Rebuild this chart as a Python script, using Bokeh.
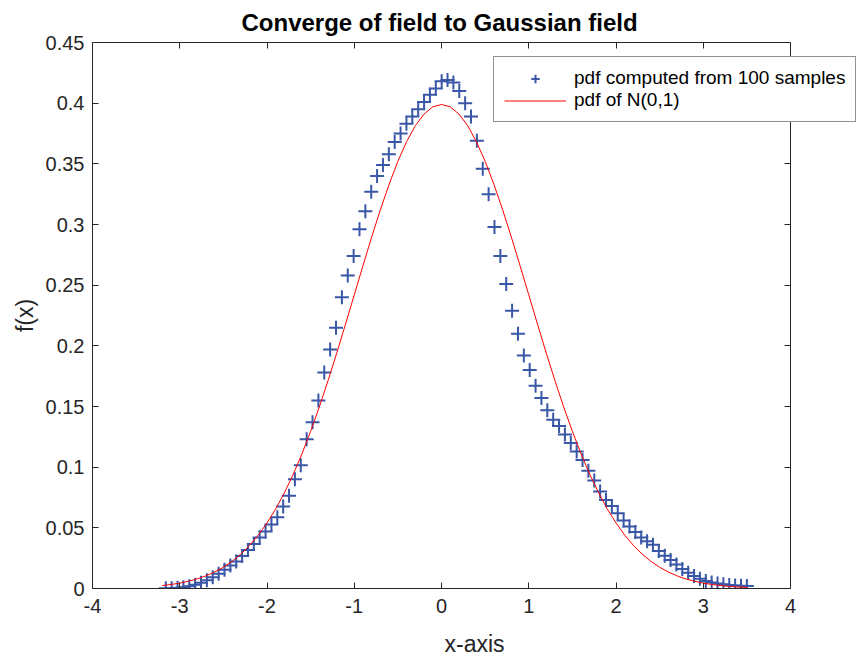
import numpy as np
from bokeh.plotting import figure
from bokeh.models import Range1d, LinearAxis, FixedTicker, Legend, LegendItem
from bokeh.embed import file_html
from bokeh.resources import INLINE

# ---- data ----
# 100 evaluation points of the estimated pdf (evenly spaced grid)
sample_x = np.linspace(-3.16, 3.50, 100)
sample_pdf = [
    0.0002, 0.0003, 0.0006, 0.0011, 0.0019, 0.0030, 0.0047, 0.0068, 0.0093, 0.0121,
    0.0155, 0.0190, 0.0223, 0.0267, 0.0318, 0.0367, 0.0420, 0.0470, 0.0527, 0.0587,
    0.0675, 0.0765, 0.0900, 0.1015, 0.1230, 0.1370, 0.1550, 0.1780, 0.1970, 0.2150,
    0.2400, 0.2580, 0.2740, 0.2960, 0.3110, 0.3270, 0.3400, 0.3490, 0.3580, 0.3680,
    0.3750, 0.3830, 0.3890, 0.3950, 0.4010, 0.4070, 0.4120, 0.4180, 0.4190, 0.4170,
    0.4100, 0.4000, 0.3890, 0.3690, 0.3460, 0.3250, 0.2980, 0.2740, 0.2510, 0.2290,
    0.2100, 0.1920, 0.1800, 0.1670, 0.1570, 0.1470, 0.1390, 0.1340, 0.1270, 0.1200,
    0.1130, 0.1060, 0.0970, 0.0890, 0.0800, 0.0730, 0.0680, 0.0620, 0.0560, 0.0510,
    0.0465, 0.0420, 0.0390, 0.0360, 0.0310, 0.0270, 0.0235, 0.0197, 0.0160, 0.0130,
    0.0103, 0.0081, 0.0061, 0.0050, 0.0042, 0.0034, 0.0028, 0.0025, 0.0022, 0.0020,
]

# N(0,1) density, tabulated at 0.1 steps from -3.2 to 3.5
normal_x = [round(v, 1) for v in np.arange(-3.2, 3.51, 0.1)]
normal_pdf = [
    0.0024, 0.0033, 0.0044, 0.0060, 0.0079, 0.0104, 0.0136, 0.0175, 0.0224, 0.0283,
    0.0355, 0.0440, 0.0540, 0.0656, 0.0790, 0.0940, 0.1109, 0.1295, 0.1497, 0.1714,
    0.1942, 0.2179, 0.2420, 0.2661, 0.2897, 0.3123, 0.3332, 0.3521, 0.3683, 0.3814,
    0.3910, 0.3970, 0.3989, 0.3970, 0.3910, 0.3814, 0.3683, 0.3521, 0.3332, 0.3123,
    0.2897, 0.2661, 0.2420, 0.2179, 0.1942, 0.1714, 0.1497, 0.1295, 0.1109, 0.0940,
    0.0790, 0.0656, 0.0540, 0.0440, 0.0355, 0.0283, 0.0224, 0.0175, 0.0136, 0.0104,
    0.0079, 0.0060, 0.0044, 0.0033, 0.0024, 0.0017, 0.0012, 0.0009,
]

x_ticks = [-4, -3, -2, -1, 0, 1, 2, 3, 4]
x_tick_labels = ["-4", "-3", "-2", "-1", "0", "1", "2", "3", "4"]
y_ticks = [0, 0.05, 0.1, 0.15, 0.2, 0.25, 0.3, 0.35, 0.4, 0.45]
y_tick_labels = ["0", "0.05", "0.1", "0.15", "0.2", "0.25", "0.3", "0.35", "0.4", "0.45"]
x_limits = (-4, 4)
y_limits = (0, 0.45)

title_text = "Converge of field to Gaussian field"
x_label = "x-axis"
y_label = "f(x)"
legend_labels = ["pdf computed from 100 samples", "pdf of N(0,1)"]

# ---- styling / layout ----
FONT = "Liberation Sans"
AX_COLOR = "#262626"
BLUE = "#3A57A7"
RED = "#FF0000"

W, H = 856, 659
LEFT, BOTTOM, TOP = 92, 69, 42
BOX_W = 698                      # width of the axes box in pixels
# the frame runs to the right edge of the page so the legend (which overhangs
# the axes box, as in the reference) is not clipped; the box itself ends at x=4
frame_w = W - LEFT
x_end = x_limits[0] + (x_limits[1] - x_limits[0]) * frame_w / BOX_W

p = figure(width=W, height=H, output_backend="svg", toolbar_location=None,
           x_range=Range1d(x_limits[0], x_end), y_range=Range1d(*y_limits),
           min_border_left=LEFT, min_border_right=0, min_border_top=TOP,
           min_border_bottom=BOTTOM)
p.background_fill_color = "white"
p.border_fill_color = "white"
p.outline_line_color = None
p.xgrid.visible = False
p.ygrid.visible = False

p.title.text = title_text
p.title.align = "left"
p.title.offset = 149
p.title.standoff = 13
p.title.text_font = FONT
p.title.text_font_size = "24px"
p.title.text_font_style = "bold"
p.title.text_color = "black"


def style_axis(ax, ticks, labels):
    ax.ticker = FixedTicker(ticks=ticks)
    ax.major_label_overrides = {t: l for t, l in zip(ticks, labels)}
    ax.major_tick_in = 6
    ax.major_tick_out = 0
    ax.minor_tick_in = 0
    ax.minor_tick_out = 0
    ax.axis_line_color = AX_COLOR
    ax.major_tick_line_color = AX_COLOR
    ax.major_label_text_font = FONT
    ax.major_label_text_font_size = "20px"
    ax.major_label_text_color = AX_COLOR
    ax.axis_label_text_font = FONT
    ax.axis_label_text_font_size = "23px"
    ax.axis_label_text_font_style = "normal"
    ax.axis_label_text_color = AX_COLOR


def style_mirror_axis(ax, ticks):
    # tick marks only (drawn as minor ticks so that no labels are produced)
    ax.ticker = FixedTicker(ticks=[], minor_ticks=ticks)
    ax.major_tick_in = 0
    ax.major_tick_out = 0
    ax.minor_tick_in = 6
    ax.minor_tick_out = 0
    ax.axis_line_color = AX_COLOR
    ax.minor_tick_line_color = AX_COLOR
    ax.major_label_standoff = 0


xa = p.xaxis[0]
style_axis(xa, x_ticks, x_tick_labels)
xa.bounds = x_limits
xa.axis_label = x_label
xa.major_label_standoff = 10
xa.axis_label_standoff = 15

ya = p.yaxis[0]
style_axis(ya, y_ticks, y_tick_labels)
ya.axis_label = y_label
ya.major_label_standoff = 8
ya.axis_label_standoff = 5

top = LinearAxis()
style_mirror_axis(top, x_ticks)
top.bounds = x_limits
p.add_layout(top, "above")

right = LinearAxis(fixed_location=x_limits[1])
style_mirror_axis(right, y_ticks)
p.add_layout(right, "right")

r_pts = p.scatter(sample_x, sample_pdf, marker="cross", size=14, line_width=2,
                  line_color=BLUE)
r_line = p.line(normal_x, normal_pdf, line_color=RED, line_width=1)

legend = Legend(items=[LegendItem(label=legend_labels[0], renderers=[r_pts]),
                       LegendItem(label=legend_labels[1], renderers=[r_line])],
                location=(401, 466))
legend.label_text_font = FONT
legend.label_text_font_size = "19px"
legend.label_text_color = "black"
legend.glyph_width = 62
legend.glyph_height = 21
legend.label_height = 21
legend.label_standoff = 8
legend.spacing = 0
legend.padding = 10
legend.margin = 0
legend.border_line_color = AX_COLOR
legend.border_line_width = 1
legend.background_fill_alpha = 1
p.add_layout(legend, "center")

open("out.html", "w").write(file_html(p, INLINE))
